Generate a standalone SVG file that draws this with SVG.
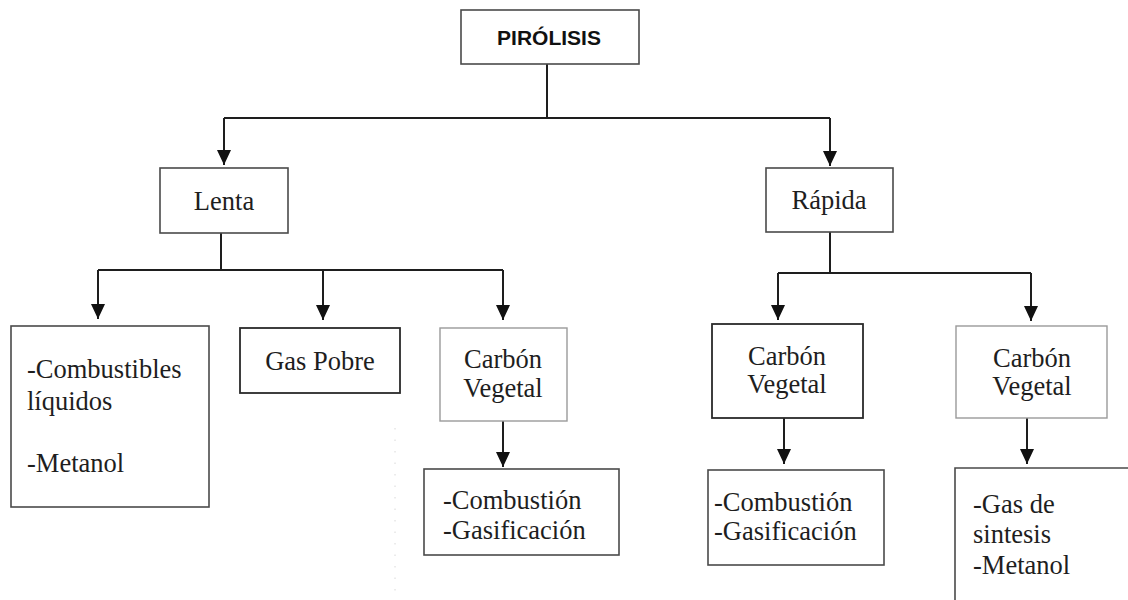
<svg xmlns="http://www.w3.org/2000/svg" width="1128" height="600" viewBox="0 0 1128 600">
  <style>
    .box { fill: #ffffff; stroke: #4a4a4a; stroke-width: 1.6; }
    .box-light { fill: #ffffff; stroke: #9a9a9a; stroke-width: 1.4; }
    .box-dark { fill: #ffffff; stroke: #2a2a2a; stroke-width: 1.8; }
    .lbl { font-family: "Liberation Serif", "Times New Roman", serif; font-size: 26.5px; fill: #1e1e1e; }
    .mid { text-anchor: middle; }
    .title { font-family: "Liberation Sans", Arial, sans-serif; font-weight: bold; font-size: 21px; fill: #111; text-anchor: middle; }
    .wire { fill: none; stroke: #1e1e1e; stroke-width: 2; }
  </style>
  <defs>
    <!-- filled triangular head, tip at the end of the line -->
    <marker id="arrow" markerUnits="userSpaceOnUse" markerWidth="16" markerHeight="14" viewBox="0 0 16 14" refX="15" refY="7" orient="auto">
      <path d="M0,0 L15,7 L0,14 Z" fill="#111"/>
    </marker>
  </defs>

  <!-- connectors -->
  <g id="connectors">
    <!-- root split -->
    <path class="wire" d="M547,64 V118 M224,118 H830"/>
    <line class="wire" x1="224" y1="118" x2="224" y2="165" marker-end="url(#arrow)"/>
    <line class="wire" x1="830" y1="118" x2="830" y2="166" marker-end="url(#arrow)"/>
    <!-- Lenta split -->
    <path class="wire" d="M221,233 V270 M98,270 H503"/>
    <line class="wire" x1="98" y1="270" x2="98" y2="319" marker-end="url(#arrow)"/>
    <line class="wire" x1="323" y1="270" x2="323" y2="320" marker-end="url(#arrow)"/>
    <line class="wire" x1="503" y1="270" x2="503" y2="320" marker-end="url(#arrow)"/>
    <!-- Rápida split -->
    <path class="wire" d="M830,232 V273 M778,273 H1031"/>
    <line class="wire" x1="778" y1="273" x2="778" y2="320" marker-end="url(#arrow)"/>
    <line class="wire" x1="1031" y1="273" x2="1031" y2="321" marker-end="url(#arrow)"/>
    <!-- Carbón Vegetal outputs -->
    <line class="wire" x1="503" y1="421" x2="503" y2="467" marker-end="url(#arrow)"/>
    <line class="wire" x1="784" y1="418" x2="784" y2="464" marker-end="url(#arrow)"/>
    <line class="wire" x1="1027" y1="418" x2="1027" y2="464" marker-end="url(#arrow)"/>
    <!-- faint dotted guide -->
    <line x1="395" y1="428" x2="395" y2="600" stroke="#d8d8d8" stroke-width="1" stroke-dasharray="1.5 10"/>
  </g>

  <g id="pirolisis">
    <rect class="box" x="461" y="10" width="178" height="54"/>
    <text class="title" x="549" y="45">PIRÓLISIS</text>
  </g>

  <g id="lenta">
    <rect class="box" x="160" y="168" width="128" height="65"/>
    <text class="lbl mid" x="224" y="210">Lenta</text>
  </g>

  <g id="rapida">
    <rect class="box" x="766" y="168" width="127" height="64"/>
    <text class="lbl mid" x="829" y="209">Rápida</text>
  </g>

  <g id="combustibles">
    <rect class="box" x="11" y="326" width="198" height="181"/>
    <text class="lbl" x="27" y="378">-Combustibles</text>
    <text class="lbl" x="27" y="410">líquidos</text>
    <text class="lbl" x="27" y="472">-Metanol</text>
  </g>

  <g id="gas-pobre">
    <rect class="box-dark" x="240" y="328" width="160" height="65"/>
    <text class="lbl mid" x="320" y="370">Gas Pobre</text>
  </g>

  <g id="carbon-lenta">
    <rect class="box-light" x="440" y="328" width="127" height="93"/>
    <text class="lbl mid" x="503" y="368">Carbón</text>
    <text class="lbl mid" x="503" y="397">Vegetal</text>
  </g>

  <g id="usos-lenta">
    <rect class="box" x="424" y="469" width="195" height="86"/>
    <text class="lbl" x="443" y="509">-Combustión</text>
    <text class="lbl" x="443" y="539">-Gasificación</text>
  </g>

  <g id="carbon-rapida-1">
    <rect class="box-dark" x="712" y="324" width="151" height="94"/>
    <text class="lbl mid" x="787" y="365">Carbón</text>
    <text class="lbl mid" x="787" y="393">Vegetal</text>
  </g>

  <g id="usos-rapida">
    <rect class="box" x="708" y="470" width="176" height="95"/>
    <text class="lbl" x="714" y="511">-Combustión</text>
    <text class="lbl" x="714" y="540">-Gasificación</text>
  </g>

  <g id="carbon-rapida-2">
    <rect class="box-light" x="956" y="326" width="151" height="92"/>
    <text class="lbl mid" x="1032" y="367">Carbón</text>
    <text class="lbl mid" x="1032" y="395">Vegetal</text>
  </g>

  <g id="sintesis">
    <path class="box" d="M1130,468 H955 V602"/>
    <text class="lbl" x="973" y="513">-Gas de</text>
    <text class="lbl" x="973" y="543">sintesis</text>
    <text class="lbl" x="973" y="574">-Metanol</text>
  </g>
</svg>
